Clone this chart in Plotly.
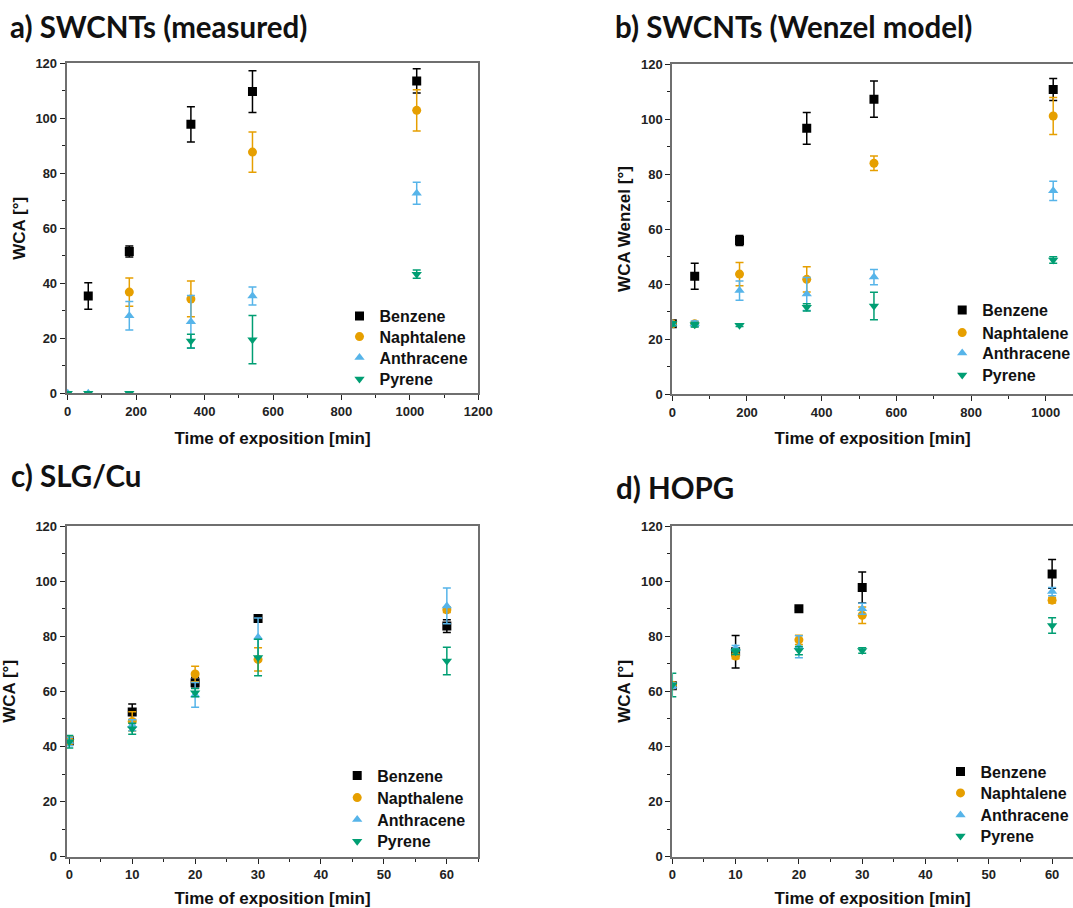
import plotly.graph_objects as go

# ---------------- data ----------------
series_names = ["Benzene", "Naphtalene", "Anthracene", "Pyrene"]
series_names_c = ["Benzene", "Napthalene", "Anthracene", "Pyrene"]
colors = ["#000000", "#E69F00", "#56B4E9", "#009E73"]
symbols = ["square", "circle", "triangle-up", "triangle-down"]

# a) SWCNTs (measured)
a_benz_x = [60, 180, 360, 540, 1020]
a_benz_y = [35.4, 51.6, 97.8, 109.7, 113.6]
a_benz_e = [4.8, 2.0, 6.4, 7.6, 4.4]
a_naph_x = [180, 360, 540, 1020]
a_naph_y = [36.8, 34.3, 87.7, 102.9]
a_naph_e = [5.1, 6.5, 7.3, 7.5]
a_anth_x = [0, 60, 180, 360, 540, 1020]
a_anth_y = [0, 0, 28.2, 26.0, 35.4, 72.7]
a_anth_e = [0, 0, 5.2, 9.6, 3.3, 4.0]
a_pyr_x = [0, 60, 180, 360, 540, 1020]
a_pyr_y = [0, 0, 0, 19.0, 19.5, 43.3]
a_pyr_e = [0, 0, 0, 2.5, 8.8, 1.5]

# b) SWCNTs (Wenzel model)
b_x = [0, 60, 180, 360, 540, 1020]
b_benz_y = [25.5, 42.8, 55.8, 96.6, 107.2, 110.7]
b_benz_e = [0.8, 4.7, 1.8, 5.8, 6.6, 4.0]
b_naph_y = [25.5, 25.5, 43.6, 41.7, 83.9, 101.1]
b_naph_e = [0.8, 0.8, 4.2, 4.6, 2.6, 6.7]
b_anth_y = [25.5, 25.5, 37.6, 36.4, 42.5, 73.9]
b_anth_e = [0.8, 1.0, 3.5, 6.0, 2.8, 3.5]
b_pyr_y = [25.5, 25.2, 25.0, 31.5, 32.0, 48.7]
b_pyr_e = [0.8, 0.8, 0.5, 1.3, 5.0, 1.2]

# c) SLG/Cu
c_x = [0, 10, 20, 30, 60]
c_benz_y = [42.1, 52.5, 63.1, 86.4, 83.7]
c_benz_e = [1.5, 2.9, 2.0, 1.0, 2.3]
c_naph_y = [42.0, 49.1, 66.3, 71.6, 89.6]
c_naph_e = [1.5, 3.5, 2.8, 4.2, 1.0]
c_anth_y = [41.8, 47.7, 58.7, 79.6, 91.0]
c_anth_e = [1.5, 2.0, 4.5, 7.0, 6.5]
c_pyr_y = [41.7, 46.4, 59.5, 72.3, 71.0]
c_pyr_e = [2.3, 2.0, 1.5, 6.6, 5.0]

# d) HOPG
d_x = [0, 10, 20, 30, 60]
d_benz_y = [62.0, 74.4, 90.0, 97.7, 102.6]
d_benz_e = [1.0, 5.9, 0.5, 5.6, 5.2]
d_naph_y = [62.2, 72.8, 78.7, 87.6, 93.1]
d_naph_e = [1.0, 1.0, 1.7, 3.0, 1.0]
d_anth_y = [62.0, 75.6, 76.2, 90.0, 96.2]
d_anth_e = [1.0, 1.0, 4.0, 2.0, 1.5]
d_pyr_y = [62.3, 74.4, 74.8, 74.8, 83.9]
d_pyr_e = [4.3, 1.0, 1.5, 1.0, 2.8]

panel_titles = ["a) SWCNTs (measured)", "b) SWCNTs (Wenzel model)", "c) SLG/Cu", "d) HOPG"]
x_title = "Time of exposition [min]"
y_titles = ["WCA [°]", "WCA Wenzel [°]", "WCA [°]", "WCA [°]"]

# ---------------- figure ----------------
W, H = 1073, 908
fig = go.Figure()

panels = [
    dict(xs=[a_benz_x, a_naph_x, a_anth_x, a_pyr_x],
         ys=[a_benz_y, a_naph_y, a_anth_y, a_pyr_y],
         es=[a_benz_e, a_naph_e, a_anth_e, a_pyr_e], names=series_names),
    dict(xs=[b_x] * 4, ys=[b_benz_y, b_naph_y, b_anth_y, b_pyr_y],
         es=[b_benz_e, b_naph_e, b_anth_e, b_pyr_e], names=series_names),
    dict(xs=[c_x] * 4, ys=[c_benz_y, c_naph_y, c_anth_y, c_pyr_y],
         es=[c_benz_e, c_naph_e, c_anth_e, c_pyr_e], names=series_names_c),
    dict(xs=[d_x] * 4, ys=[d_benz_y, d_naph_y, d_anth_y, d_pyr_y],
         es=[d_benz_e, d_naph_e, d_anth_e, d_pyr_e], names=series_names),
]


def legend_id(n):
    return "legend" if n == 1 else f"legend{n}"


for p, panel in enumerate(panels):
    xa = "x" if p == 0 else f"x{p+1}"
    ya = "y" if p == 0 else f"y{p+1}"
    for i in range(4):
        fig.add_trace(go.Scatter(
            x=panel["xs"][i], y=panel["ys"][i], mode="markers",
            name=panel["names"][i],
            marker=dict(symbol=symbols[i], size=9, color=colors[i], line=dict(width=0)),
            error_y=dict(type="data", array=panel["es"][i], visible=True,
                         color=colors[i], thickness=1.5, width=4),
            xaxis=xa, yaxis=ya, legend=legend_id(p * 4 + i + 1), showlegend=True,
        ))


def px_x(v):
    return v / W


def px_y(v):
    return 1 - v / H


# plot area boxes in pixels (left, right, top, bottom)
boxes = [
    (66.7, 478.3, 63.3, 393.3),
    (672.3, 1073, 64.0, 394.0),
    (66.7, 478.3, 526.0, 856.7),
    (672.3, 1073, 526.0, 856.7),
]
x_ranges = [[-3, 1200], [0, 1073], [-0.41, 65], [0, 63.3]]
x_dticks = [200, 200, 10, 10]
x_minor = [100, 100, 5, 5]
y_mirror = [True, False, True, False]
y_standoff = [5, 6, 18, 6]
x_standoff = [14, 14, 11, 11]

axis_color = "#6f6f6f"
tick_color = "#222222"
label_font = dict(family="Liberation Sans, Arial", size=13, color="#222222", weight="bold")
title_font = dict(family="Liberation Sans, Arial", size=17, color="#111111", weight="bold")

for p in range(4):
    l, r, t, b = boxes[p]
    xk = "xaxis" if p == 0 else f"xaxis{p+1}"
    yk = "yaxis" if p == 0 else f"yaxis{p+1}"
    ya = "y" if p == 0 else f"y{p+1}"
    xa = "x" if p == 0 else f"x{p+1}"
    fig.layout[xk] = dict(
        domain=[px_x(l), min(1.0, px_x(r))], anchor=ya, range=x_ranges[p],
        tick0=0, dtick=x_dticks[p], ticks="outside", ticklen=5, tickwidth=1,
        tickcolor=tick_color, showline=True, linecolor=axis_color, linewidth=2,
        mirror=True, showgrid=False, zeroline=False, tickfont=label_font,
        minor=dict(dtick=x_minor[p], ticks="outside", ticklen=3, tickcolor=tick_color, showgrid=False),
        title=dict(text=x_title, font=title_font, standoff=x_standoff[p]),
    )
    fig.layout[yk] = dict(
        domain=[px_y(b), px_y(t)], anchor=xa, range=[0, 120],
        tick0=0, dtick=20, ticks="outside", ticklen=5, tickwidth=1,
        tickcolor=tick_color, showline=True, linecolor=axis_color, linewidth=2,
        mirror=y_mirror[p], showgrid=False, zeroline=False, tickfont=label_font,
        minor=dict(dtick=10, ticks="outside", ticklen=3, tickcolor=tick_color, showgrid=False),
        title=dict(text=y_titles[p], font=title_font, standoff=y_standoff[p]),
    )

# one legend entry per row, placed like the original legend boxes
legend_font = dict(family="Liberation Sans, Arial", size=16, color="#111111", weight="bold")
legend_text_x = [379, 981.7, 376.7, 980]
legend_rows = [
    [316, 336.7, 357.7, 379],
    [310, 332.7, 353, 375],
    [775.7, 797.7, 819.7, 841.3],
    [771.7, 793, 815, 836],
]
for p in range(4):
    for i in range(4):
        fig.layout[legend_id(p * 4 + i + 1)] = dict(
            x=px_x(legend_text_x[p] - 39.5), y=px_y(legend_rows[p][i]),
            xanchor="left", yanchor="middle",
            font=legend_font, bgcolor="rgba(0,0,0,0)", borderwidth=0,
            itemsizing="trace",
        )

title_pos = [(8, 27), (613, 27), (9, 475), (614, 487)]
for p in range(4):
    tx, ty = title_pos[p]
    fig.add_annotation(
        text=panel_titles[p], xref="paper", yref="paper",
        x=px_x(tx), y=px_y(ty), xanchor="left", yanchor="middle",
        showarrow=False, font=dict(family="Lato, Open Sans", size=29.5, color="#111111", weight="bold"),
    )

fig.update_layout(
    width=W, height=H, margin=dict(l=0, r=0, t=0, b=0, autoexpand=False),
    paper_bgcolor="white", plot_bgcolor="white",
)

fig.write_html("out.html")
